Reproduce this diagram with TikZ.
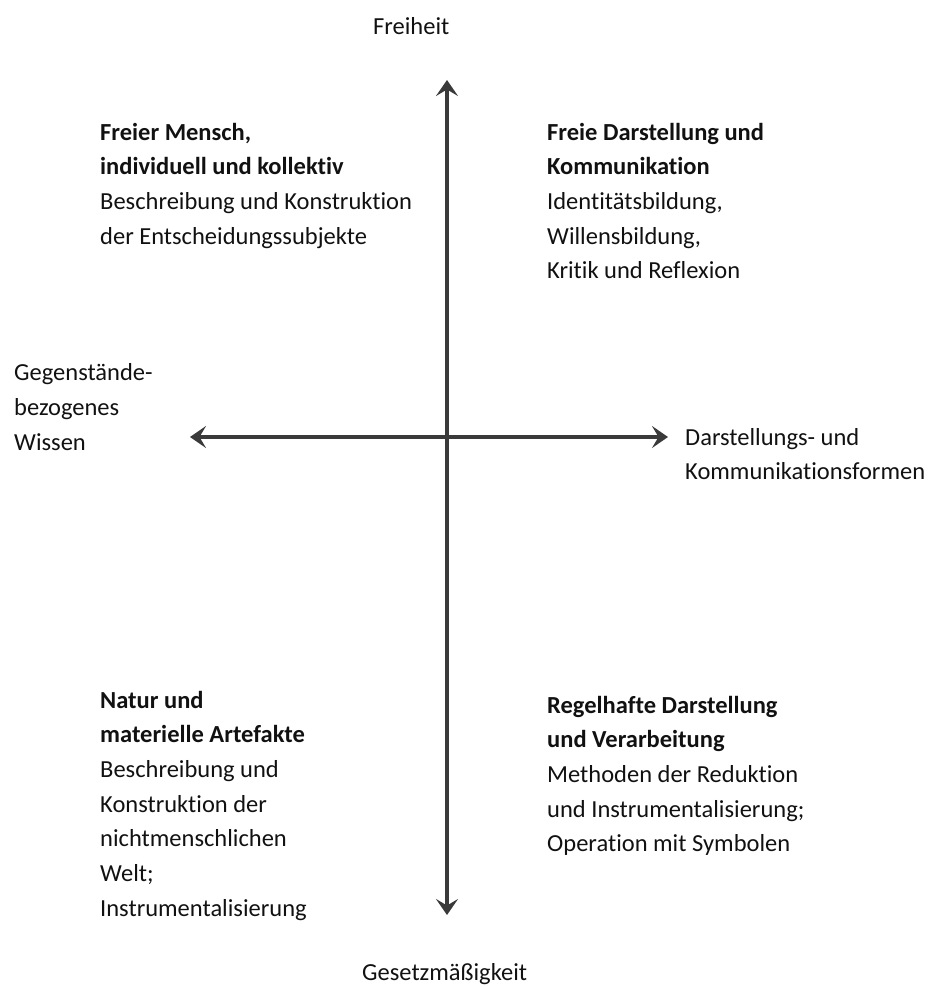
\documentclass[tikz,border=0pt]{standalone}
\usepackage{fontspec}
\setmainfont{Carlito}[Ligatures={NoCommon}]
\usetikzlibrary{arrows.meta}
\definecolor{axiscol}{HTML}{3A3A3A}
\definecolor{txtcol}{HTML}{111111}
\tikzset{
  axisline/.style={line width=3.2pt, draw=axiscol, {Stealth[length=16pt,width=22pt,inset=6.5pt]}-{Stealth[length=16pt,width=22pt,inset=6.5pt]}},
  lbl/.style={inner sep=0pt, anchor=base west, align=left, text=txtcol,
    font=\fontsize{24.5pt}{34.7pt}\selectfont},
}
\begin{document}
\begin{tikzpicture}[x=1pt,y=-1pt]
\useasboundingbox (0,0) rectangle (932,987);
\coordinate (vtop) at (447,80);
\coordinate (vbot) at (447,915);
\coordinate (hleft) at (190,437);
\coordinate (hright) at (668,437);
\draw[axisline] (vbot) -- (vtop);
\draw[axisline] (hleft) -- (hright);

\node[lbl] (freiheit) at (373,35) {Freiheit};
\node[lbl] (gesetz) at (362,980) {Gesetzmäßigkeit};
\node[lbl] (gegen) at (14,450) {Gegenstände-\\bezogenes\\Wissen};
\node[lbl] (darst) at (685,479.7) {Darstellungs- und\\Kommunikationsformen};

\node[lbl] (tl) at (100,244.1) {\textbf{Freier Mensch,}\\\textbf{individuell und kollektiv}\\Beschreibung und Konstruktion\\der Entscheidungssubjekte};
\node[lbl] (tr) at (547,278.8) {\textbf{Freie Darstellung und}\\\textbf{Kommunikation}\\Identitätsbildung,\\Willensbildung,\\Kritik und Reflexion};
\node[lbl] (bl) at (100,916.2) {\textbf{Natur und}\\\textbf{materielle Artefakte}\\Beschreibung und\\Konstruktion der\\nichtmenschlichen\\Welt;\\Instrumentalisierung};
\node[lbl] (br) at (547,851.8) {\textbf{Regelhafte Darstellung}\\\textbf{und Verarbeitung}\\Methoden der Reduktion\\und Instrumentalisierung;\\Operation mit Symbolen};
\end{tikzpicture}
\end{document}
